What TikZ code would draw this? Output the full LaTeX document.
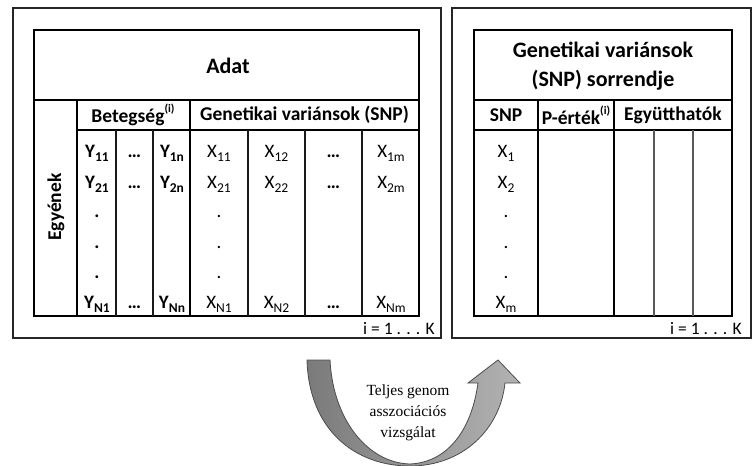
\documentclass[tikz,border=0pt]{standalone}
\usepackage{fontspec}
\setmainfont{Carlito}
\newfontfamily\serifface{Liberation Serif}
\newcommand\lowidx[1]{\raisebox{-0.45ex}{\fontsize{13.5}{14}\selectfont #1}}
\newcommand\highidx[1]{\raisebox{1.05ex}{\fontsize{11.5}{12}\selectfont #1}}

\tikzset{
  boxline/.style={line width=2.2pt, draw=black!85},
  tabframe/.style={line width=2.5pt, draw=black},
  tabrule/.style={line width=1.9pt, draw=black},
  tabfine/.style={line width=1.2pt, draw=black!90},
  tabsoft/.style={line width=1.1pt, draw=black!65},
  titletext/.style={font=\bfseries\fontsize{22}{29}\selectfont, align=center, inner sep=0pt},
  hdrtext/.style={font=\bfseries\fontsize{19.5}{22}\selectfont, inner sep=0pt},
  celltext/.style={font=\fontsize{19}{22}\selectfont, anchor=base, inner sep=0pt},
  bcelltext/.style={celltext, font=\bfseries\fontsize{19}{22}\selectfont},
  rangetext/.style={font=\fontsize{17.5}{20}\selectfont, anchor=base east, inner sep=0pt},
  swoosh/.style={left color=black!52, right color=black!30, draw=black!70, line width=0.8pt},
  swooshtext/.style={font=\serifface\fontsize{15.5}{21}\selectfont, align=center, inner sep=0pt}
}

\begin{document}
\begin{tikzpicture}[x=1pt,y=-1pt]
\useasboundingbox (0,0) rectangle (753,466);

% ---------- left panel: data table ----------
\draw[boxline] (13,8) rectangle (441,338);
\draw[tabframe] (34,30) rectangle (419,316);
\draw[tabrule] (34,100) -- (419,100);
\draw[tabrule] (77,100) -- (77,316);
\draw[tabrule] (77,130) -- (419,130);
\draw[tabrule] (190,100) -- (190,316);
\foreach \xx in {116,153,248,305,362}
  \draw[tabfine] (\xx,130) -- (\xx,316);

\node[titletext] (adat) at (228,66) {Adat};
\node[hdrtext, rotate=90] (egyenek) at (56,207) {Egyének};
\node[hdrtext] (beteg) at (133,115) {Betegség\highidx{(i)}};
\node[hdrtext] (genvar) at (304.5,115) {Genetikai variánsok (SNP)};

% first row
\node[bcelltext] (y11) at (97,157) {Y\lowidx{11}};
\node[bcelltext] (yd1) at (134.5,157) {…};
\node[bcelltext] (y1n) at (172,157) {Y\lowidx{1n}};
\node[celltext] (x11) at (219,157) {X\lowidx{11}};
\node[celltext] (x12) at (276.5,157) {X\lowidx{12}};
\node[bcelltext] (xd1) at (333.5,157) {…};
\node[celltext] (x1m) at (391,157) {X\lowidx{1m}};
% second row
\node[bcelltext] (y21) at (97,188) {Y\lowidx{21}};
\node[bcelltext] (yd2) at (134.5,188) {…};
\node[bcelltext] (y2n) at (172,188) {Y\lowidx{2n}};
\node[celltext] (x21) at (219,188) {X\lowidx{21}};
\node[celltext] (x22) at (276.5,188) {X\lowidx{22}};
\node[bcelltext] (xd2) at (333.5,188) {…};
\node[celltext] (x2m) at (391,188) {X\lowidx{2m}};
% vertical dots
\node[bcelltext] (yv1) at (97,217) {.};
\node[bcelltext] (yv2) at (97,248) {.};
\node[bcelltext] (yv3) at (97,278) {.};
\node[celltext] (xv1) at (219,217) {.};
\node[celltext] (xv2) at (219,248) {.};
\node[celltext] (xv3) at (219,278) {.};
% last row
\node[bcelltext] (yN1) at (97,308) {Y\lowidx{N1}};
\node[bcelltext] (ydN) at (134.5,308) {…};
\node[bcelltext] (yNn) at (172,308) {Y\lowidx{Nn}};
\node[celltext] (xN1) at (219,308) {X\lowidx{N1}};
\node[celltext] (xN2) at (276.5,308) {X\lowidx{N2}};
\node[bcelltext] (xdN) at (333.5,308) {…};
\node[celltext] (xNm) at (391,308) {X\lowidx{Nm}};

\node[rangetext] (rangeL) at (435,334) {i = 1 . . . K};

% ---------- right panel: SNP ranking ----------
\draw[boxline] (452,8) rectangle (751,338);
\draw[tabframe] (474,30) rectangle (732,316);
\draw[tabrule] (474,100) -- (732,100);
\draw[tabrule] (474,130) -- (732,130);
\draw[tabrule] (538,100) -- (538,316);
\draw[tabrule] (614,100) -- (614,316);
\draw[tabsoft] (654,130) -- (654,316);
\draw[tabsoft] (693,130) -- (693,316);

\node[titletext] (rank) at (603,66) {Genetikai variánsok\\(SNP) sorrendje};
\node[hdrtext] (snp) at (506,115) {SNP};
\node[hdrtext] (pval) at (576,115) {P-érték\highidx{(i)}};
\node[hdrtext] (coef) at (673,115) {Együtthatók};

\node[celltext] (s1) at (506,157) {X\lowidx{1}};
\node[celltext] (s2) at (506,188) {X\lowidx{2}};
\node[celltext] (sv1) at (506,217) {.};
\node[celltext] (sv2) at (506,248) {.};
\node[celltext] (sv3) at (506,278) {.};
\node[celltext] (sm) at (506,308) {X\lowidx{m}};

\node[rangetext] (rangeR) at (742,334) {i = 1 . . . K};

% ---------- curved arrow between the panels ----------
\shade[swoosh]
  (307,360)
  .. controls (309,430) and (355,466) .. (410,466)
  .. controls (462,466) and (500,430) .. (505,383)
  -- (520,383) -- (498,360) -- (468,383) -- (478,383)
  .. controls (470,440) and (440,463) .. (410,464)
  .. controls (368,463) and (333,420) .. (330,360)
  -- cycle;

\node[swooshtext] (gwas) at (408,413) {Teljes genom\\asszociációs\\vizsgálat};
\end{tikzpicture}
\end{document}
